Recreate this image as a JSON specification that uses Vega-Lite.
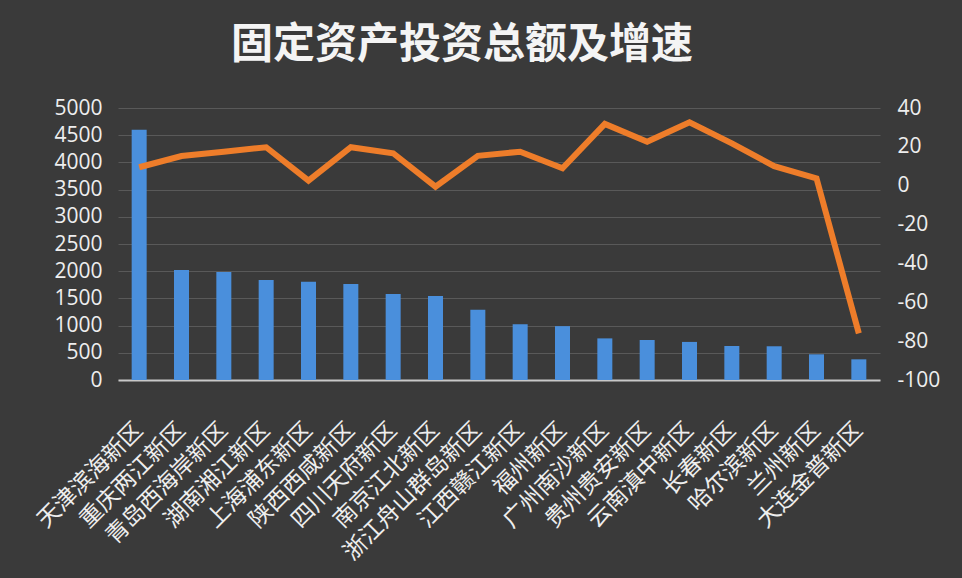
{
  "$schema": "https://vega.github.io/schema/vega-lite/v6.json",
  "autosize": {"type": "none"},
  "width": 762,
  "height": 272,
  "padding": {"left": 118, "top": 108, "right": 82, "bottom": 198},
  "background": "#3a3a3a",
  "title": {
    "text": "固定资产投资总额及增速",
    "font": "Noto Sans CJK SC",
    "fontSize": 42,
    "fontWeight": "bold",
    "color": "#f4f4f4",
    "anchor": "middle",
    "frame": "group",
    "offset": 30,
    "dx": -37
  },
  "data": {
    "values": [
      {"area": "天津滨海新区", "amount": 4600, "growth": 9.5},
      {"area": "重庆两江新区", "amount": 2020, "growth": 15.3},
      {"area": "青岛西海岸新区", "amount": 1985, "growth": 17.5},
      {"area": "湖南湘江新区", "amount": 1840, "growth": 19.8},
      {"area": "上海浦东新区", "amount": 1805, "growth": 2.6},
      {"area": "陕西西咸新区", "amount": 1765, "growth": 19.8},
      {"area": "四川天府新区", "amount": 1580, "growth": 16.7},
      {"area": "南京江北新区", "amount": 1545, "growth": -0.5},
      {"area": "浙江舟山群岛新区", "amount": 1290, "growth": 15.4},
      {"area": "江西赣江新区", "amount": 1025, "growth": 17.5},
      {"area": "福州新区", "amount": 990, "growth": 9.0},
      {"area": "广州南沙新区", "amount": 765, "growth": 31.8},
      {"area": "贵州贵安新区", "amount": 735, "growth": 22.6},
      {"area": "云南滇中新区", "amount": 700, "growth": 32.6},
      {"area": "长春新区", "amount": 625, "growth": 21.8},
      {"area": "哈尔滨新区", "amount": 620, "growth": 10.1},
      {"area": "兰州新区", "amount": 472, "growth": 3.8},
      {"area": "大连金普新区", "amount": 380, "growth": -76}
    ]
  },
  "encoding": {
    "x": {
      "field": "area",
      "type": "nominal",
      "sort": null,
      "title": null,
      "axis": {
        "labelAngle": -45,
        "labelAlign": "right",
        "labelBaseline": "middle",
        "labelFont": "Noto Sans CJK SC",
        "labelFontSize": 23,
        "labelColor": "#eeeeee",
        "labelPadding": 46,
        "labelDx": 21,
        "labelLimit": 0,
        "ticks": false,
        "domainColor": "#c8c8c8",
        "domainWidth": 2,
        "labelOverlap": false
      }
    }
  },
  "layer": [
    {
      "mark": {"type": "bar", "size": 15, "color": "#4a8fdc"},
      "encoding": {
        "y": {
          "field": "amount",
          "type": "quantitative",
          "title": null,
          "scale": {"domain": [0, 5000], "nice": false},
          "axis": {
            "values": [0, 500, 1000, 1500, 2000, 2500, 3000, 3500, 4000, 4500, 5000],
            "labelExpr": "'' + datum.value",
            "labelFont": "Open Sans",
            "labelFontSize": 21,
            "labelColor": "#eeeeee",
            "labelPadding": 16,
            "ticks": false,
            "domain": false,
            "grid": true,
            "gridColor": "#595959",
            "gridWidth": 1.2
          }
        }
      }
    },
    {
      "mark": {"type": "line", "color": "#ee7d2a", "strokeWidth": 6, "strokeJoin": "miter"},
      "encoding": {
        "y": {
          "field": "growth",
          "type": "quantitative",
          "title": null,
          "scale": {"domain": [-100, 40], "nice": false},
          "axis": {
            "orient": "right",
            "values": [-100, -80, -60, -40, -20, 0, 20, 40],
            "labelExpr": "'' + datum.value",
            "labelFont": "Open Sans",
            "labelFontSize": 21,
            "labelColor": "#eeeeee",
            "labelPadding": 17,
            "ticks": false,
            "domain": false,
            "grid": false
          }
        }
      }
    }
  ],
  "resolve": {"scale": {"y": "independent"}},
  "config": {"view": {"stroke": null}}
}
